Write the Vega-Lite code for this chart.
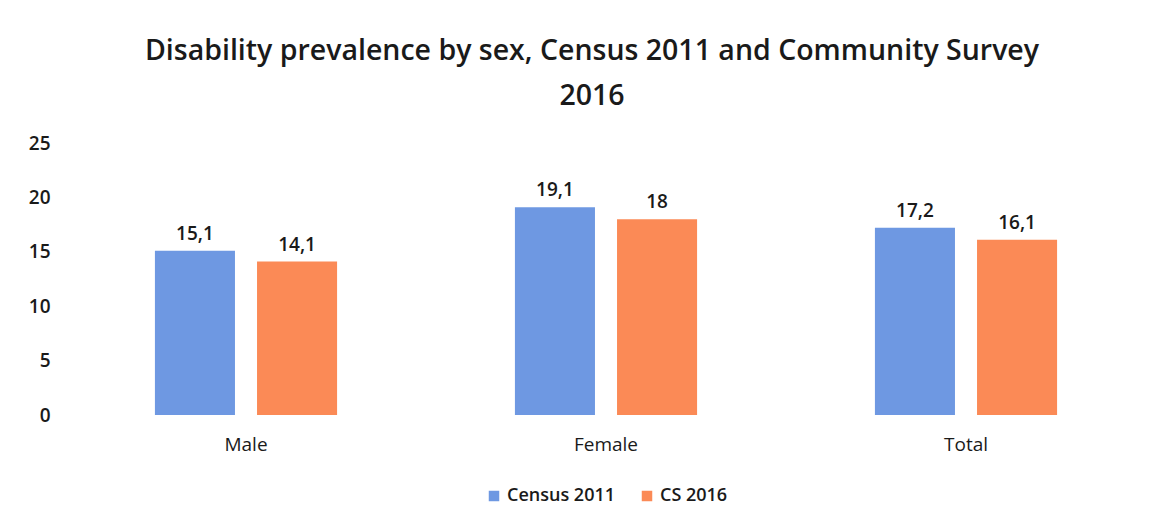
{
  "$schema": "https://vega.github.io/schema/vega-lite/v6.json",
  "autosize": {"type": "none"},
  "width": 1080,
  "height": 272,
  "padding": {"left": 66, "top": 143, "right": 24, "bottom": 111},
  "background": "white",
  "title": {
    "text": ["Disability prevalence by sex, Census 2011 and Community Survey", "2016"],
    "font": "Open Sans",
    "fontSize": 28.5,
    "fontWeight": 600,
    "color": "#1a1a1a",
    "anchor": "middle",
    "dx": -14,
    "lineHeight": 45,
    "offset": 24
  },
  "data": {
    "values": [
      {"sex": "Male", "source": "Census 2011", "value": 15.1, "label": "15,1"},
      {"sex": "Male", "source": "CS 2016", "value": 14.1, "label": "14,1"},
      {"sex": "Female", "source": "Census 2011", "value": 19.1, "label": "19,1"},
      {"sex": "Female", "source": "CS 2016", "value": 18, "label": "18"},
      {"sex": "Total", "source": "Census 2011", "value": 17.2, "label": "17,2"},
      {"sex": "Total", "source": "CS 2016", "value": 16.1, "label": "16,1"}
    ]
  },
  "encoding": {
    "x": {
      "field": "sex",
      "type": "nominal",
      "sort": ["Male", "Female", "Total"],
      "scale": {"paddingInner": 0.494, "paddingOuter": 0.247},
      "axis": {
        "title": null,
        "labelAngle": 0,
        "labelFont": "Open Sans",
        "labelFontSize": 19,
        "labelFontWeight": 500,
        "labelColor": "#1a1a1a",
        "labelPadding": 20,
        "domain": false,
        "ticks": false
      }
    },
    "xOffset": {
      "field": "source",
      "type": "nominal",
      "sort": ["Census 2011", "CS 2016"],
      "scale": {"paddingInner": 0.216, "paddingOuter": 0}
    },
    "y": {
      "field": "value",
      "type": "quantitative",
      "scale": {"domain": [0, 25]},
      "axis": {
        "title": null,
        "values": [0, 5, 10, 15, 20, 25],
        "labelFont": "Open Sans",
        "labelFontSize": 19,
        "labelFontWeight": 600,
        "labelColor": "#1a1a1a",
        "labelPadding": 16,
        "domain": false,
        "ticks": false,
        "grid": false
      }
    }
  },
  "layer": [
    {
      "mark": {"type": "bar"},
      "encoding": {
        "color": {
          "field": "source",
          "type": "nominal",
          "sort": ["Census 2011", "CS 2016"],
          "scale": {"domain": ["Census 2011", "CS 2016"], "range": ["#6e98e2", "#fb8a56"]},
          "legend": {
            "title": null,
            "orient": "bottom",
            "direction": "horizontal",
            "symbolType": "square",
            "symbolSize": 110,
            "labelFont": "Open Sans",
            "labelFontSize": 18,
            "labelFontWeight": 600,
            "labelColor": "#1a1a1a",
            "columnPadding": 22,
            "offset": 33
          }
        }
      }
    },
    {
      "mark": {
        "type": "text",
        "baseline": "bottom",
        "dy": -7,
        "font": "Open Sans",
        "fontSize": 19,
        "fontWeight": 600,
        "color": "#1a1a1a"
      },
      "encoding": {
        "text": {"field": "label", "type": "nominal"}
      }
    }
  ],
  "config": {
    "view": {"stroke": null},
    "legend": {"layout": {"bottom": {"anchor": "middle"}}}
  }
}
